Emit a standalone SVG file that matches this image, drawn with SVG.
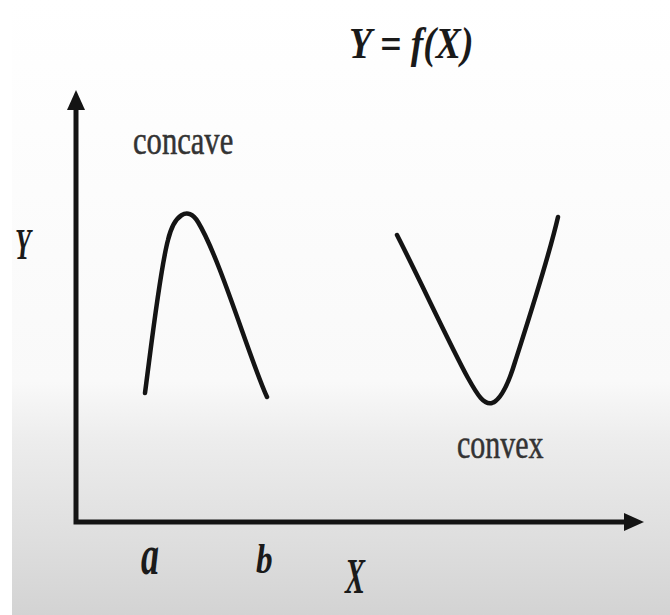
<svg xmlns="http://www.w3.org/2000/svg" width="670" height="615" viewBox="0 0 670 615">
  <style>
    .math { font-family: "Liberation Serif", "DejaVu Serif", serif; font-style: italic; font-weight: bold; font-size: 40px; fill: #1a1a1a; }
    .word { font-family: "Liberation Serif", "DejaVu Serif", serif; font-size: 30px; fill: #333333; stroke: #333333; stroke-width: 0.4px; }
    .curve { fill: none; stroke: #141414; stroke-width: 4.5; stroke-linecap: round; stroke-linejoin: round; }
    .axis { fill: none; stroke: #141414; stroke-width: 5; stroke-linejoin: miter; }
  </style>
  <defs>
    <linearGradient id="bg" x1="0" y1="0" x2="0" y2="615" gradientUnits="userSpaceOnUse">
      <stop offset="0" stop-color="#ffffff"/>
      <stop offset="0.62" stop-color="#f9f9f9"/>
      <stop offset="0.72" stop-color="#ececec"/>
      <stop offset="0.88" stop-color="#dedede"/>
      <stop offset="1" stop-color="#d3d3d3"/>
    </linearGradient>
    <marker id="arrow" viewBox="0 0 20 18" refX="2" refY="9" markerWidth="20" markerHeight="18" markerUnits="userSpaceOnUse" orient="auto-start-reverse">
      <path d="M0,0 L20,9 L0,18 z" fill="#141414"/>
    </marker>
  </defs>

  <rect x="0" y="0" width="670" height="615" fill="#ffffff"/>
  <rect x="12" y="0" width="658" height="615" fill="url(#bg)"/>

  <g id="axes">
    <path class="axis" d="M76,108 L76,522 L626,522" marker-start="url(#arrow)" marker-end="url(#arrow)"/>
  </g>

  <g id="concave-curve">
    <path class="curve" d="M145,393 C152,340 160,270 168,240 C174,215 188,205 198,222 C220,258 250,360 267,397"/>
  </g>

  <g id="convex-curve">
    <path class="curve" d="M397,235 C420,280 450,345 468,378 C478,396 484,405 492,403 C500,400 508,385 515,362 C530,315 548,260 558,217"/>
  </g>

  <g id="labels">
    <text class="math" transform="translate(349,58) scale(0.94,1.13)">Y = f(X)</text>
    <text class="math" transform="translate(15,259) scale(0.65,1.13)">Y</text>
    <text class="math" transform="translate(141,574) scale(0.9,1.45)">a</text>
    <text class="math" transform="translate(256,573) scale(0.83,1.05)">b</text>
    <text class="math" transform="translate(345,593) scale(0.75,1.25)">X</text>
    <text class="word" transform="translate(133,154) scale(1.02,1.3)">concave</text>
    <text class="word" transform="translate(457,458) scale(1,1.3)">convex</text>
  </g>
</svg>
